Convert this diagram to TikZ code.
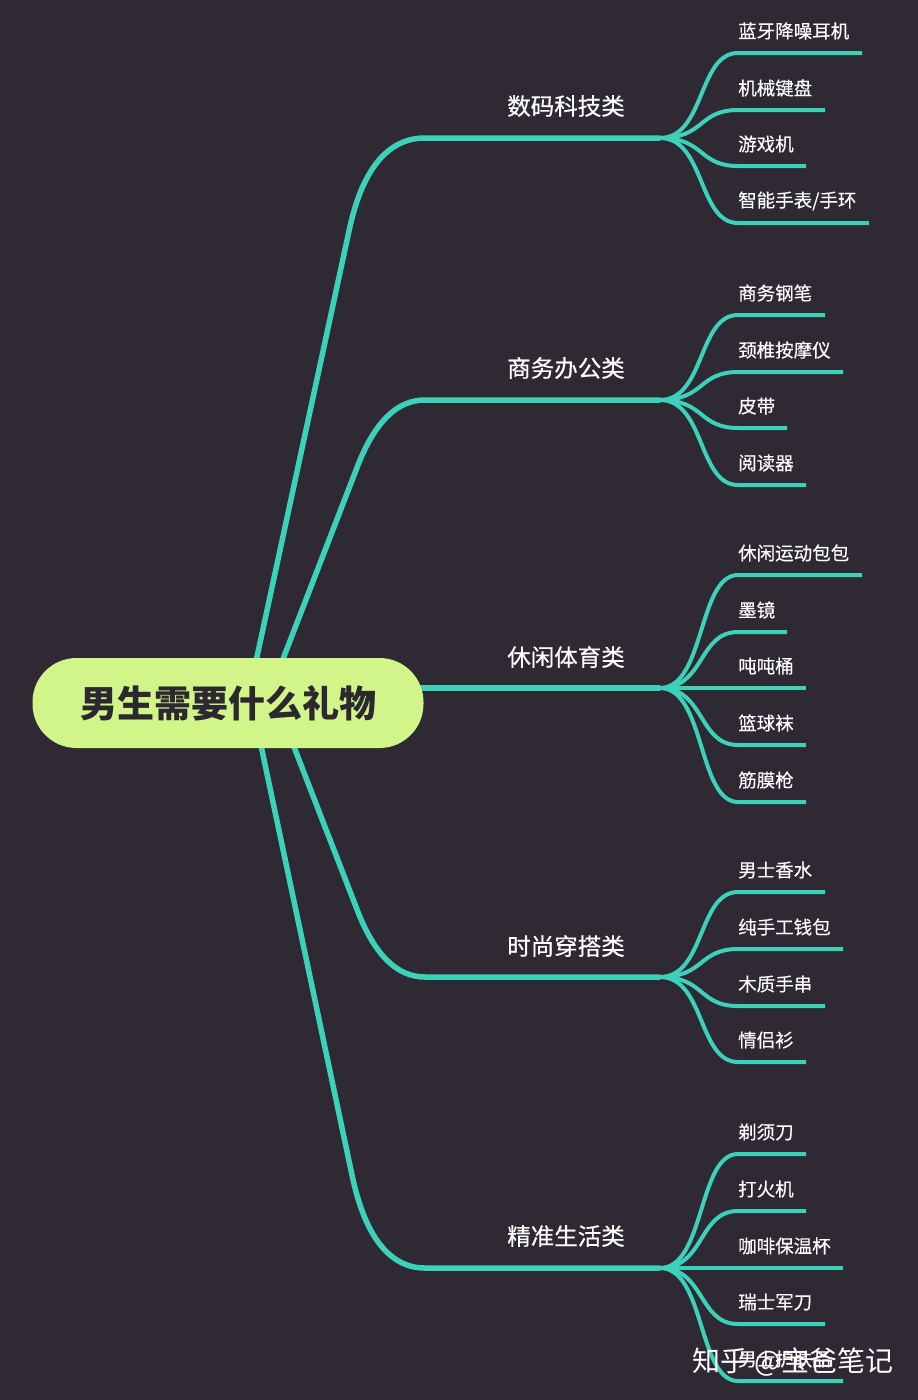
\documentclass[tikz,border=0pt]{standalone}
\usepackage{fontspec}
\setmainfont{Noto Sans CJK SC}
\newfontfamily\cjk{Noto Sans CJK SC}
\newfontfamily\cjkm[FakeBold=0.5]{Noto Sans CJK SC}
\newfontfamily\cjkl[FakeBold=0.25]{Noto Sans CJK SC}
\definecolor{bgc}{HTML}{2E2933}
\definecolor{teal}{HTML}{3CD2B9}
\definecolor{pill}{HTML}{D2F58A}
\definecolor{ink}{HTML}{2B2830}
\tikzset{
  mainbr/.style={draw=teal, line width=5.5pt},
  leafbr/.style={draw=teal, line width=4pt},
  leaftxt/.style={anchor=west, inner sep=0pt, text=white, font=\cjkl\fontsize{18.5}{20}\selectfont},
  brtxt/.style={inner sep=0pt, text=white, font=\cjkm\fontsize{23.5}{26}\selectfont},
  rootbox/.style={fill=pill, rounded corners=44pt, minimum width=391pt, minimum height=90pt, inner sep=0pt, text=ink, font=\cjk\bfseries\fontsize{37}{40}\selectfont},
  wmark/.style={inner sep=0pt, text=white, font=\cjk\fontsize{28}{30}\selectfont}
}
\begin{document}
\begin{tikzpicture}[x=1pt,y=-1pt]
\fill[bgc] (0,0) rectangle (918,1400);
\useasboundingbox (0,0) rectangle (918,1400);

% root-side anchors
\coordinate (r1) at (247,703);
\coordinate (r2) at (266,703);
\coordinate (r3) at (400,688);
\coordinate (r4) at (277,703);
\coordinate (r5) at (252,703);
% bend start points
\coordinate (p1) at (349,231);
\coordinate (p2) at (358,465);
\coordinate (p4) at (358,912);
\coordinate (p5) at (352,1175);
% bend controls
\coordinate (g1) at (362,169);  \coordinate (h1) at (388,138);
\coordinate (g2) at (375,422);  \coordinate (h2) at (397,400);
\coordinate (g4) at (375,955);  \coordinate (h4) at (397,977);
\coordinate (g5) at (365,1237); \coordinate (h5) at (390,1268);
% bend end points
\coordinate (q1) at (425,138);
\coordinate (q2) at (425,400);
\coordinate (q4) at (425,977);
\coordinate (q5) at (425,1268);
% fan points
\coordinate (f1) at (660,138);
\coordinate (f2) at (660,400);
\coordinate (f3) at (660,688);
\coordinate (f4) at (660,977);
\coordinate (f5) at (660,1268);

\draw[mainbr] (r1) -- (p1) .. controls (g1) and (h1) .. (q1) -- (f1);
\draw[mainbr] (r2) -- (p2) .. controls (g2) and (h2) .. (q2) -- (f2);
\draw[mainbr] (r3) -- (f3);
\draw[mainbr] (r4) -- (p4) .. controls (g4) and (h4) .. (q4) -- (f4);
\draw[mainbr] (r5) -- (p5) .. controls (g5) and (h5) .. (q5) -- (f5);

% branch labels
\node[brtxt] (b1) at (566,106) {数码科技类};
\node[brtxt] (b2) at (566,368) {商务办公类};
\node[brtxt] (b3) at (566,657) {休闲体育类};
\node[brtxt] (b4) at (566,946) {时尚穿搭类};
\node[brtxt] (b5) at (566,1236) {精准生活类};

% leaves: fan, name, y, xend, text
\newcommand{\myleaf}[5]{%
  \coordinate (#2s) at (738,#3);
  \coordinate (#2e) at (#4,#3);
  \draw[leafbr] (#1) .. controls +(45,0) and +(-40,0) .. (#2s) -- (#2e);
  \node[leaftxt] (#2t) at (738,#3-22) {#5};
}
\myleaf{f1}{a1}{53}{862}{蓝牙降噪耳机}
\myleaf{f1}{a2}{110}{825}{机械键盘}
\myleaf{f1}{a3}{166}{806}{游戏机}
\myleaf{f1}{a4}{223}{869}{智能手表/手环}

\myleaf{f2}{b1}{315}{825}{商务钢笔}
\myleaf{f2}{b2}{372}{843}{颈椎按摩仪}
\myleaf{f2}{b3}{428}{787}{皮带}
\myleaf{f2}{b4}{485}{806}{阅读器}

\myleaf{f3}{c1}{575}{862}{休闲运动包包}
\myleaf{f3}{c2}{632}{787}{墨镜}
\myleaf{f3}{c3}{688}{806}{吨吨桶}
\myleaf{f3}{c4}{745}{806}{篮球袜}
\myleaf{f3}{c5}{802}{806}{筋膜枪}

\myleaf{f4}{d1}{892}{825}{男士香水}
\myleaf{f4}{d2}{949}{843}{纯手工钱包}
\myleaf{f4}{d3}{1006}{825}{木质手串}
\myleaf{f4}{d4}{1062}{806}{情侣衫}

\myleaf{f5}{e1}{1154}{806}{剃须刀}
\myleaf{f5}{e2}{1211}{806}{打火机}
\myleaf{f5}{e3}{1268}{843}{咖啡保温杯}
\myleaf{f5}{e4}{1324}{825}{瑞士军刀}
\myleaf{f5}{e5}{1381}{843}{男士护肤品}

% root
\node[rootbox] (root) at (228,703) {男生需要什么礼物};

% watermark
\node[wmark] (wm) at (793,1362) {知乎 @宝爸笔记};
\end{tikzpicture}
\end{document}
